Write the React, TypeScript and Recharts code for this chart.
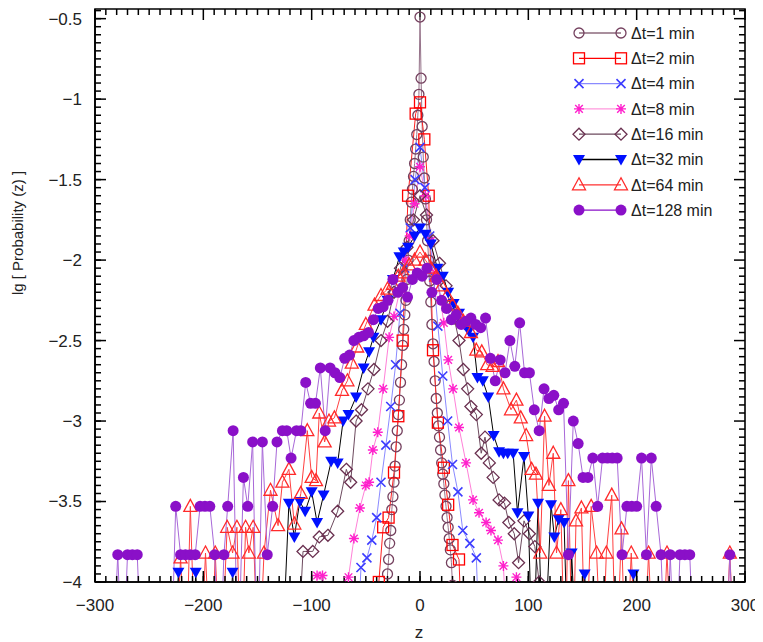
import React from "react";
import { LineChart, Line, XAxis, YAxis, ReferenceLine, ReferenceArea } from "recharts";

type Pt = [number, number];

// lg probability per bin; -4.6 marks an empty bin (drawn off the bottom of the plot)
const dt1: Pt[] = [
  [-31, -4.6], [-30, -3.95], [-29, -3.86], [-28, -3.76], [-27, -3.68], [-26, -3.55], [-25, -3.47],
  [-24, -3.38], [-23, -3.28], [-22, -3.16], [-21, -3.06], [-20, -2.96], [-19, -2.87], [-18, -2.76],
  [-17, -2.65], [-16, -2.53], [-15, -2.43], [-14, -2.34], [-13, -2.25], [-12, -2.12], [-11, -2.0],
  [-10, -1.88], [-9, -1.75], [-8, -1.64], [-7, -1.56], [-6, -1.48], [-5, -1.4], [-4, -1.31],
  [-3, -1.22], [-2, -1.1], [-1, -0.97], [0, -0.49], [1, -0.87], [2, -1.17], [3, -1.36], [4, -1.49],
  [5, -1.62], [6, -1.75], [7, -1.88], [8, -2.0], [9, -2.13], [10, -2.26], [11, -2.4], [12, -2.52],
  [13, -2.63], [14, -2.75], [15, -2.86], [16, -2.95], [17, -3.03], [18, -3.1], [19, -3.18],
  [20, -3.26], [21, -3.33], [22, -3.39], [23, -3.46], [24, -3.53], [25, -3.6], [26, -3.66],
  [27, -3.73], [28, -3.8], [29, -3.88], [30, -4.02], [31, -4.6],
];

const dt2: Pt[] = [
  [-42, -4.6], [-38, -4.0], [-34, -3.66], [-29, -3.6], [-24, -3.32], [-20, -2.97], [-16, -2.5],
  [-11, -1.6], [-4, -1.09], [0, -1.02], [4, -1.25], [8, -1.6], [12, -2.56], [16.5, -3.01],
  [22, -3.29], [26, -3.52], [30, -3.77], [36, -3.86], [40, -4.6],
];

const dt4: Pt[] = [
  [-59, -4.6], [-54.5, -3.91], [-49, -3.85], [-44.5, -3.74], [-40, -3.6], [-36, -3.38],
  [-31.5, -3.15], [-27, -2.91], [-22.5, -2.65], [-18.5, -2.33], [-14, -2.05], [-9, -1.8],
  [-4.5, -1.5], [0, -1.3], [4.5, -1.55], [9, -1.85], [12.5, -2.1], [16.5, -2.41], [21, -2.72],
  [25.5, -3.0], [30, -3.27], [35, -3.44], [39.5, -3.68], [46, -3.76], [52, -3.85], [56, -4.6],
];

const dt8: Pt[] = [
  [-100, -4.6], [-95, -3.96], [-90, -3.96], [-84, -4.6], [-72, -4.6], [-66, -3.97], [-61, -3.73],
  [-55.5, -3.54], [-50, -3.4], [-47, -3.38], [-43.5, -3.18], [-39, -3.07], [-34, -2.8],
  [-28.5, -2.48], [-24, -2.35], [-19, -2.2], [-14, -2.0], [-9.5, -1.85], [-5, -1.65], [0, -1.42],
  [5, -1.6], [10, -1.88], [14.5, -2.08], [19, -2.25], [22, -2.39], [26, -2.62], [30.5, -2.8],
  [36, -3.04], [42.5, -3.26], [49, -3.49], [54.5, -3.57], [61, -3.63], [65.5, -3.68], [72, -3.74],
  [77, -3.9], [82, -4.6], [85, -4.6], [89, -3.97], [94, -4.6],
];

const dt16: Pt[] = [
  [-114, -4.6], [-108, -3.81], [-99, -3.81], [-93, -3.72], [-85, -3.71], [-76, -3.56], [-68, -3.3],
  [-64, -3.38], [-59, -3.0], [-54, -2.93], [-48, -2.8], [-42.5, -2.68], [-36, -2.5], [-30, -2.38],
  [-24, -2.2], [-18, -2.05], [-12, -1.92], [-6, -1.75], [0, -1.6], [6, -1.72], [12, -1.88],
  [18, -2.02], [24, -2.16], [28, -2.28], [31.5, -2.36], [36, -2.5], [40, -2.68], [44, -2.8],
  [47, -2.91], [52, -2.96], [56.5, -3.2], [60, -3.1], [64, -3.26], [67.5, -3.35], [73, -3.49],
  [78, -3.51], [82, -3.63], [87, -3.7], [91, -3.88], [96, -3.62], [101, -3.7], [106, -3.78],
  [110, -4.0], [114, -4.6],
];

const dt32: Pt[] = [
  [-228, -4.6], [-223, -3.94], [-218, -4.6], [-211, -4.6], [-207, -3.94], [-202, -4.6],
  [-178, -4.6], [-173, -3.94], [-168, -4.6], [-128, -4.6], [-121, -3.51], [-116, -3.72],
  [-111, -3.5], [-106, -3.56], [-100, -3.44], [-95, -3.63], [-89, -3.46], [-82, -3.25],
  [-76, -3.26], [-71, -3.0], [-66, -2.96], [-59, -2.85], [-52, -2.67], [-47, -2.57], [-43, -2.48],
  [-36, -2.37], [-30, -2.25], [-25, -2.12], [-19, -1.98], [-15, -1.95], [-11, -1.92], [-5, -1.85],
  [0, -1.8], [5, -1.84], [10, -1.9], [16, -2.05], [21, -2.1], [26, -2.2], [31, -2.27], [36, -2.33],
  [41, -2.4], [45, -2.44], [49, -2.48], [53, -2.73], [58, -2.75], [63, -2.85], [68, -3.09],
  [73, -3.19], [77, -3.2], [81, -3.2], [86, -3.2], [90, -3.57], [96, -3.22], [100, -3.59],
  [104, -4.6], [109, -3.51], [114, -4.6], [121, -3.52], [124, -3.72], [128, -3.61], [133, -3.63],
  [137, -4.6], [140, -3.82], [145, -4.6], [152, -3.95], [157, -4.6], [192, -4.6], [197, -3.95],
  [202, -4.6],
];

const dt64: Pt[] = [
  [-226, -4.6], [-221, -3.85], [-216, -4.6], [-212, -3.53], [-207, -4.6], [-203, -4.6],
  [-198, -3.82], [-193, -4.6], [-189, -3.82], [-184, -4.6], [-178, -3.66], [-173, -3.82],
  [-169, -3.66], [-165, -4.6], [-161, -3.66], [-158, -3.82], [-154, -3.66], [-149, -4.6],
  [-144, -3.82], [-138, -3.43], [-131, -3.65], [-127, -3.38], [-121, -3.3], [-116, -3.64],
  [-110, -3.45], [-104, -3.06], [-100, -3.35], [-96, -3.37], [-93, -2.95], [-88, -3.13],
  [-84, -3.0], [-79, -2.98], [-72, -2.81], [-67, -2.75], [-63, -2.64], [-58, -2.54], [-50, -2.4],
  [-42, -2.28], [-36, -2.22], [-30, -2.18], [-25, -2.15], [-20, -2.1], [-15, -2.08], [-10, -2.03],
  [-5, -2.0], [0, -1.95], [5, -2.0], [10, -2.05], [15, -2.1], [20, -2.16], [25, -2.22], [30, -2.28],
  [35, -2.33], [40, -2.38], [47, -2.45], [52, -2.56], [57, -2.57], [62, -2.65], [67, -2.66],
  [72, -2.63], [77, -2.8], [84, -2.93], [89, -2.87], [93, -2.98], [98, -3.09], [103, -3.3],
  [107, -3.33], [111, -3.82], [115, -2.97], [119, -3.4], [123, -3.2], [126, -3.82], [130, -3.55],
  [134, -4.6], [137, -3.37], [141, -4.6], [144, -3.62], [149, -3.54], [153, -4.6], [158, -3.53],
  [163, -3.82], [168, -4.6], [172, -3.82], [177, -3.46], [181, -4.6], [186, -3.67], [190, -4.6],
  [195, -3.82], [200, -4.6], [206, -4.6], [211, -3.82], [216, -4.6], [223, -4.6], [228, -3.82],
  [233, -4.6], [281, -4.6], [286, -3.82], [291, -4.6],
];

const dt128: Pt[] = [
  [-284, -4.6], [-279, -3.83], [-274.5, -4.6], [-270, -3.83], [-265.5, -3.83], [-261, -3.83],
  [-256.5, -4.6], [-230, -4.6], [-225.5, -3.53], [-221, -3.83], [-216.5, -3.83], [-212, -3.83],
  [-207.5, -3.83], [-203, -3.53], [-198.5, -3.53], [-194, -3.53], [-189.5, -3.83], [-185, -4.6],
  [-181, -3.83], [-177.5, -3.53], [-172.5, -3.06], [-168, -4.6], [-163, -3.35], [-159, -3.53],
  [-154.5, -3.13], [-150, -4.6], [-145.5, -3.13], [-141, -3.83], [-136, -3.53], [-132, -3.13],
  [-127, -3.06], [-123, -3.06], [-119, -3.23], [-114, -3.06], [-110, -3.06], [-105.5, -2.76],
  [-101, -2.89], [-96.5, -2.89], [-92, -2.67], [-87.5, -3.06], [-83, -2.67], [-78.5, -2.7],
  [-74, -2.73], [-69.5, -2.61], [-65, -2.59], [-61, -2.5], [-56.5, -2.48], [-52, -2.47],
  [-47.5, -2.45], [-43, -2.37], [-38.5, -2.3], [-34, -2.29], [-29.5, -2.25], [-25, -2.12],
  [-20.5, -2.2], [-16, -2.17], [-11.5, -2.23], [-7, -2.12], [-2.5, -2.08], [2, -2.1], [6.5, -2.05],
  [11, -2.2], [15.5, -2.12], [20, -2.25], [24.5, -2.3], [29, -2.37], [33.5, -2.34], [38, -2.4],
  [42.5, -2.38], [47, -2.36], [51.5, -2.4], [56, -2.42], [60.5, -2.36], [65, -2.61], [69.5, -2.75],
  [74, -2.62], [78.5, -2.7], [83, -2.5], [87.5, -2.66], [92, -2.39], [96.5, -2.7], [101, -2.7],
  [105.5, -2.93], [110, -3.06], [114.5, -2.8], [119, -2.86], [123.5, -2.84], [128, -2.93],
  [132.5, -2.89], [137, -3.83], [141.5, -3.0], [146, -3.14], [150.5, -3.35], [155, -3.35],
  [159.5, -3.23], [164, -3.53], [168.5, -3.23], [173, -3.23], [177.5, -3.23], [182, -3.23],
  [186.5, -3.83], [191, -3.53], [195.5, -3.53], [200, -3.53], [204.5, -3.23], [209, -3.83],
  [213.5, -3.23], [218, -3.53], [222.5, -3.83], [227, -4.6], [231, -3.83], [235.5, -4.6],
  [240, -3.83], [244.5, -3.83], [249, -3.83], [253.5, -4.6], [281.5, -4.6], [286, -3.83],
  [290.5, -4.6],
];

const X_DOMAIN: [number, number] = [-300, 300];
const Y_DOMAIN: [number, number] = [-4, -0.44];
const X_MAJOR = [-300, -200, -100, 0, 100, 200, 300];
const Y_MAJOR = [-4, -3.5, -3, -2.5, -2, -1.5, -1, -0.5];
const X_TICKS = Array.from({ length: 61 }, (_, i) => -300 + i * 10);
const Y_TICKS = Array.from({ length: 72 }, (_, i) => Math.round((-4 + i * 0.05) * 100) / 100);

const SERIES = [
  { key: "dt1", label: "Δt=1 min", pts: dt1, shape: "circle", mark: "#74405e", line: "#96738a", legendLine: "#8c6a7c" },
  { key: "dt2", label: "Δt=2 min", pts: dt2, shape: "square", mark: "#ff0000", line: "#ff2020", legendLine: "#ff0000" },
  { key: "dt4", label: "Δt=4 min", pts: dt4, shape: "cross", mark: "#3c3cff", line: "#8a8aff", legendLine: "#8a8aff" },
  { key: "dt8", label: "Δt=8 min", pts: dt8, shape: "star", mark: "#ff20cc", line: "#ff80d8", legendLine: "#ff99dd" },
  { key: "dt16", label: "Δt=16 min", pts: dt16, shape: "diamond", mark: "#6a3050", line: "#6d4a5e", legendLine: "#6d4a5e" },
  { key: "dt32", label: "Δt=32 min", pts: dt32, shape: "tridown", mark: "#0010ff", line: "#000000", legendLine: "#000000" },
  { key: "dt64", label: "Δt=64 min", pts: dt64, shape: "triup", mark: "#ff2a2a", line: "#ff4040", legendLine: "#ff3030" },
  { key: "dt128", label: "Δt=128 min", pts: dt128, shape: "dot", mark: "#8a10c8", line: "#a868d8", legendLine: "#8a10c8" },
];

const FONT = "'Liberation Sans', Arial, sans-serif";
const fmt = (v: number) => (v < 0 ? "\u2212" + Math.abs(v) : String(v));

const Marker = ({ shape, x, y, color }: { shape: string; x: number; y: number; color: string }) => {
  switch (shape) {
    case "circle":
      return <circle cx={x} cy={y} r={5} fill="none" stroke={color} strokeWidth={1.3} />;
    case "square":
      return <rect x={x - 5.5} y={y - 5.5} width={11} height={11} fill="none" stroke={color} strokeWidth={1.3} />;
    case "cross":
      return (
        <path
          d={`M${x - 4.5},${y - 4.5}L${x + 4.5},${y + 4.5}M${x - 4.5},${y + 4.5}L${x + 4.5},${y - 4.5}`}
          stroke={color}
          strokeWidth={1.6}
          fill="none"
        />
      );
    case "star":
      return (
        <path
          d={`M${x - 5},${y}L${x + 5},${y}M${x},${y - 5}L${x},${y + 5}M${x - 3.8},${y - 3.8}L${x + 3.8},${y + 3.8}M${x - 3.8},${y + 3.8}L${x + 3.8},${y - 3.8}`}
          stroke={color}
          strokeWidth={1.4}
          fill="none"
        />
      );
    case "diamond":
      return (
        <polygon
          points={`${x},${y - 6} ${x + 6},${y} ${x},${y + 6} ${x - 6},${y}`}
          fill="none"
          stroke={color}
          strokeWidth={1.3}
        />
      );
    case "tridown":
      return <polygon points={`${x - 6},${y - 4.5} ${x + 6},${y - 4.5} ${x},${y + 6}`} fill={color} />;
    case "triup":
      return (
        <polygon
          points={`${x},${y - 7} ${x + 6.5},${y + 5} ${x - 6.5},${y + 5}`}
          fill="none"
          stroke={color}
          strokeWidth={1.3}
        />
      );
    default:
      return <circle cx={x} cy={y} r={5.5} fill={color} />;
  }
};

const makeDot = (shape: string, color: string) => (props: any) => {
  const { cx, cy, payload, index } = props;
  if (payload == null || payload.p < -4.05 || cx == null || cy == null) return <g key={`e-${index}`} />;
  return (
    <g key={`m-${index}`}>
      <Marker shape={shape} x={cx} y={cy} color={color} />
    </g>
  );
};

// tick lengths: minor 6px, major 11px (also expressed in data units for the top/right frame ticks)
const MINOR = 6;
const MAJOR = 11;
const TICK_W = 1.5;
const PX_PER_Y = 573 / (Y_DOMAIN[1] - Y_DOMAIN[0]);
const PX_PER_X = 650 / (X_DOMAIN[1] - X_DOMAIN[0]);

const BottomTick = (props: any) => {
  const { x, y, payload } = props;
  const base = y + MINOR;
  const major = X_MAJOR.includes(payload.value);
  return (
    <g>
      {major && <line x1={x} y1={base} x2={x} y2={base - MAJOR} stroke="#000" strokeWidth={TICK_W} />}
      {major && (
        <text x={x} y={base + 29} textAnchor="middle" fontSize={17} fill="#222" fontFamily={FONT}>
          {fmt(payload.value)}
        </text>
      )}
    </g>
  );
};

const LeftTick = (props: any) => {
  const { x, y, payload } = props;
  const base = x - MINOR;
  const major = Y_MAJOR.includes(payload.value);
  return (
    <g>
      {major && <line x1={base} y1={y} x2={base + MAJOR} y2={y} stroke="#000" strokeWidth={TICK_W} />}
      {major && (
        <text x={base - 13} y={y} dy="0.35em" textAnchor="end" fontSize={17} fill="#222" fontFamily={FONT}>
          {fmt(payload.value)}
        </text>
      )}
    </g>
  );
};

const frame = { stroke: "#000", strokeWidth: 1.6 };
const tickLine = { stroke: "#000", strokeWidth: TICK_W };

export default function App() {
  return (
    <div style={{ position: "relative", width: 755, height: 634, fontFamily: FONT }}>
      <svg
        width={755}
        height={634}
        style={{ position: "absolute", left: 0, top: 0, pointerEvents: "none" }}
      >
        <text
          x={9}
          y={225}
          transform="rotate(-90 9 225)"
          textAnchor="middle"
          dominantBaseline="central"
          fontSize={15}
          fill="#222"
          fontFamily={FONT}
        >
          lg [ Probability (z) ]
        </text>
        <text x={411} y={630} textAnchor="middle" fontSize={17} fill="#222" fontFamily={FONT}>
          z
        </text>
        {SERIES.map((s, i) => {
          const y = 25 + i * 25.3;
          return (
            <g key={s.key}>
              <line x1={571} y1={y} x2={613} y2={y} stroke={s.legendLine} strokeWidth={1.3} />
              <Marker shape={s.shape} x={571} y={y} color={s.mark} />
              <Marker shape={s.shape} x={613} y={y} color={s.mark} />
              <text x={623} y={y} dy="0.36em" fontSize={16} fill="#222" fontFamily={FONT}>
                {s.label}
              </text>
            </g>
          );
        })}
      </svg>
      <LineChart width={755} height={634} margin={{ top: 1, right: 18, bottom: 0, left: 0 }}>
        <XAxis
          xAxisId="b"
          dataKey="z"
          type="number"
          domain={X_DOMAIN}
          allowDataOverflow
          ticks={X_TICKS}
          interval={0}
          tick={BottomTick}
          tickLine={tickLine}
          tickSize={-MINOR}
          tickMargin={0}
          height={60}
          axisLine={frame}
        />
        <YAxis
          yAxisId="l"
          type="number"
          domain={Y_DOMAIN}
          allowDataOverflow
          ticks={Y_TICKS}
          interval={0}
          tick={LeftTick}
          tickLine={tickLine}
          tickSize={-MINOR}
          tickMargin={0}
          width={87}
          axisLine={frame}
        />
        <ReferenceArea
          xAxisId="b"
          yAxisId="l"
          x1={X_DOMAIN[0]}
          x2={X_DOMAIN[1]}
          y1={Y_DOMAIN[0]}
          y2={Y_DOMAIN[1]}
          fill="none"
          fillOpacity={0}
          stroke="#000"
          strokeWidth={1.6}
          ifOverflow="visible"
        />
        {X_TICKS.map((v) => {
          const len = (X_MAJOR.includes(v) ? MAJOR : MINOR) / PX_PER_Y;
          return (
            <ReferenceLine
              key={`tt-${v}`}
              xAxisId="b"
              yAxisId="l"
              segment={[{ x: v, y: Y_DOMAIN[1] }, { x: v, y: Y_DOMAIN[1] - len }]}
              stroke="#000"
              strokeWidth={TICK_W}
              ifOverflow="visible"
            />
          );
        })}
        {Y_TICKS.map((v) => {
          const len = (Y_MAJOR.includes(v) ? MAJOR : MINOR) / PX_PER_X;
          return (
            <ReferenceLine
              key={`rt-${v}`}
              xAxisId="b"
              yAxisId="l"
              segment={[{ x: X_DOMAIN[1], y: v }, { x: X_DOMAIN[1] - len, y: v }]}
              stroke="#000"
              strokeWidth={TICK_W}
              ifOverflow="visible"
            />
          );
        })}
        {SERIES.map((s) => (
          <Line
            key={s.key}
            xAxisId="b"
            yAxisId="l"
            data={s.pts.map(([z, p]) => ({ z, p }))}
            dataKey="p"
            type="linear"
            stroke={s.line}
            strokeWidth={1}
            dot={makeDot(s.shape, s.mark)}
            activeDot={false}
            isAnimationActive={false}
          />
        ))}
      </LineChart>
    </div>
  );
}
